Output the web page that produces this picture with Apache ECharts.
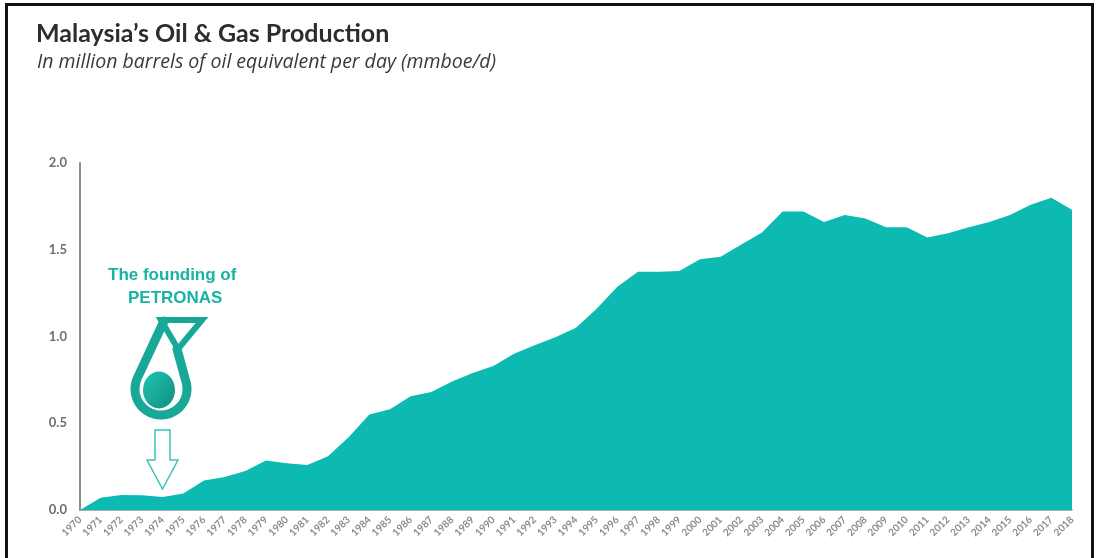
<!DOCTYPE html>
<html>
<head>
<meta charset="utf-8">
<title>Malaysia's Oil & Gas Production</title>
<script src="https://cdn.jsdelivr.net/npm/echarts@6/dist/echarts.min.js"></script>
<style>
  html, body { margin: 0; padding: 0; background: #fff; }
  #chart { width: 1096px; height: 558px; }
</style>
</head>
<body>
<div id="chart"></div>
<script>
// Production, million barrels of oil equivalent per day
const years = [
  '1970','1971','1972','1973','1974','1975','1976','1977','1978','1979',
  '1980','1981','1982','1983','1984','1985','1986','1987','1988','1989',
  '1990','1991','1992','1993','1994','1995','1996','1997','1998','1999',
  '2000','2001','2002','2003','2004','2005','2006','2007','2008','2009',
  '2010','2011','2012','2013','2014','2015','2016','2017','2018'
];
const production = [
  0.00, 0.07, 0.087, 0.085, 0.075, 0.095, 0.17, 0.19, 0.225, 0.285,
  0.27, 0.26, 0.31, 0.42, 0.55, 0.58, 0.655, 0.68, 0.74, 0.79,
  0.83, 0.90, 0.95, 0.995, 1.05, 1.16, 1.287, 1.373, 1.373, 1.378,
  1.445, 1.46, 1.53, 1.60, 1.72, 1.72, 1.66, 1.70, 1.68, 1.63,
  1.63, 1.57, 1.595, 1.63, 1.66, 1.70, 1.76, 1.80, 1.73
];
const yTicks = [0, 0.5, 1.0, 1.5, 2.0];

const teal = '#0cbab2';
const logoTeal = '#17a897';

// Droplet outline of the logo: tip, round bottom, then up to the triangle's point
const dropCx = 161, dropCy = 389, dropR = 26;
const dropPts = [[164, 321]];
for (let a = 207; a >= -19; a -= 4) {
  const t = a * Math.PI / 180;
  dropPts.push([dropCx + dropR * Math.cos(t), dropCy + dropR * Math.sin(t)]);
}
dropPts.push([177, 349]);

const chart = echarts.init(document.getElementById('chart'), null, { renderer: 'canvas' });

chart.setOption({
  backgroundColor: '#fff',
  animation: false,
  title: [
    {
      text: "Malaysia\u2019s Oil & Gas Production",
      left: 31, top: 16,
      textStyle: { fontFamily: 'Lato', fontSize: 25, fontWeight: 'bold', color: '#2d2d2d' }
    },
    {
      text: 'In million barrels of oil equivalent per day (mmboe/d)',
      left: 32, top: 47,
      textStyle: { fontFamily: 'Open Sans', fontSize: 19.5, fontStyle: 'italic', fontWeight: 'normal', color: '#3a3a3a' }
    }
  ],
  grid: { left: 80, right: 24, top: 163, bottom: 48, containLabel: false },
  xAxis: {
    type: 'category',
    data: years,
    boundaryGap: false,
    axisLine: { show: true, lineStyle: { color: '#8a9a98', width: 1.5 } },
    axisTick: { show: false },
    axisLabel: {
      rotate: 45, interval: 0, margin: 8,
      fontFamily: 'Lato', fontSize: 10, fontWeight: 'bold', color: '#8c8c8c'
    },
    splitLine: { show: false }
  },
  yAxis: {
    type: 'value',
    min: 0, max: 2.0, interval: 0.5,
    axisLine: { show: true, lineStyle: { color: '#8c8c8c', width: 2 } },
    axisTick: { show: false },
    splitLine: { show: false },
    axisLabel: {
      margin: 13,
      fontFamily: 'Lato', fontSize: 13, fontWeight: 'bold', color: '#6e6e6e',
      formatter: v => (yTicks.includes(v) ? v.toFixed(1) : '')
    }
  },
  series: [{
    type: 'line',
    data: production,
    symbol: 'none',
    lineStyle: { width: 0 },
    areaStyle: { color: teal, opacity: 1 },
    z: 1
  }],
  graphic: [
    // outer frame
    { type: 'rect', shape: { x: 6.5, y: 4.5, width: 1086, height: 600 },
      style: { fill: 'none', stroke: '#111', lineWidth: 3 }, z: 100 },
    // annotation text
    { type: 'text', x: 108, y: 267,
      style: { text: 'The founding of', fill: '#19b3a3', font: 'bold 17px "Liberation Sans", Arial, sans-serif' }, z: 50 },
    { type: 'text', x: 128, y: 290,
      style: { text: 'PETRONAS', fill: '#19b3a3', font: 'bold 17px "Liberation Sans", Arial, sans-serif' }, z: 50 },
    // logo: triangle
    { type: 'polygon', shape: { points: [[161, 320], [202, 320], [178, 349]] },
      style: { fill: 'none', stroke: logoTeal, lineWidth: 6, lineJoin: 'miter' }, z: 50 },
    // logo: drop band
    { type: 'polyline', shape: { points: dropPts },
      style: { fill: 'none', stroke: logoTeal, lineWidth: 9, lineJoin: 'round', lineCap: 'round' }, z: 50 },
    // logo: inner ball
    { type: 'circle', x: 159, y: 390, scaleY: 1.15, shape: { cx: 0, cy: 0, r: 16 },
      style: { fill: { type: 'linear', x: 0, y: 0, x2: 1, y2: 1, colorStops: [
        { offset: 0, color: '#22c4b2' }, { offset: 1, color: '#0e8f82' }
      ] } }, z: 50 },
    // down arrow
    { type: 'polygon',
      shape: { points: [[155, 430], [170, 430], [170, 460], [178, 460], [162.5, 489], [147, 460], [155, 460]] },
      style: { fill: 'rgba(255,255,255,0)', stroke: '#3cc3b6', lineWidth: 1.5 }, z: 50 }
  ]
});
</script>
</body>
</html>
